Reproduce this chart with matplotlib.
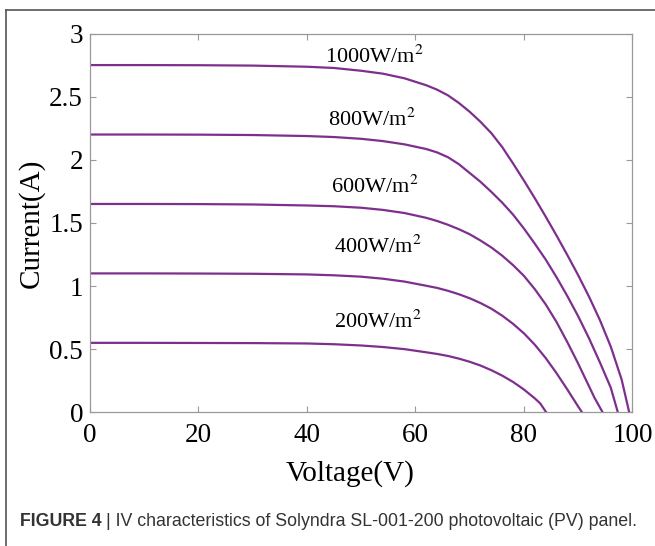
import matplotlib
matplotlib.use("Agg")
import matplotlib.pyplot as plt
from matplotlib.lines import Line2D

# IV curves: voltage (V), current (A)
v_1000 = [0, 10, 20, 30, 40, 45, 50, 54, 58, 62, 64, 66, 68, 70, 72, 74, 76, 78, 80, 82, 84, 86, 88, 90, 92, 94, 96, 98, 99.4]
i_1000 = [2.75, 2.75, 2.749, 2.746, 2.737, 2.727, 2.705, 2.682, 2.645, 2.59, 2.555, 2.51, 2.45, 2.38, 2.30, 2.21, 2.10, 1.97, 1.835, 1.695, 1.55, 1.40, 1.245, 1.085, 0.915, 0.73, 0.52, 0.26, 0.0]

v_800 = [0, 10, 20, 30, 40, 45, 50, 54, 58, 62, 64, 66, 68, 70, 72, 74, 76, 78, 80, 82, 84, 86, 88, 90, 92, 94, 96, 97.3]
i_800 = [2.2, 2.2, 2.199, 2.196, 2.188, 2.18, 2.166, 2.148, 2.122, 2.085, 2.058, 2.02, 1.965, 1.895, 1.825, 1.745, 1.66, 1.565, 1.455, 1.335, 1.21, 1.07, 0.92, 0.76, 0.585, 0.395, 0.195, 0.0]

v_600 = [0, 10, 20, 30, 40, 45, 50, 54, 58, 62, 64, 66, 68, 70, 72, 74, 76, 78, 80, 82, 84, 86, 88, 90, 92, 93, 94.5]
i_600 = [1.65, 1.65, 1.649, 1.646, 1.638, 1.632, 1.62, 1.603, 1.578, 1.54, 1.515, 1.485, 1.45, 1.41, 1.36, 1.305, 1.24, 1.165, 1.08, 0.975, 0.855, 0.715, 0.555, 0.385, 0.205, 0.115, 0.0]

v_400 = [0, 10, 20, 30, 40, 45, 50, 54, 58, 62, 64, 66, 68, 70, 72, 74, 76, 78, 80, 82, 84, 86, 88, 90, 90.7]
i_400 = [1.1, 1.1, 1.099, 1.097, 1.092, 1.085, 1.074, 1.058, 1.035, 1.002, 0.985, 0.962, 0.935, 0.903, 0.865, 0.82, 0.765, 0.70, 0.625, 0.535, 0.43, 0.31, 0.18, 0.045, 0.0]

v_200 = [0, 10, 20, 30, 40, 45, 50, 54, 58, 62, 64, 66, 68, 70, 72, 74, 76, 78, 80, 82, 83, 84.1]
i_200 = [0.55, 0.55, 0.549, 0.548, 0.545, 0.539, 0.529, 0.517, 0.5, 0.475, 0.462, 0.446, 0.425, 0.40, 0.37, 0.333, 0.29, 0.24, 0.18, 0.11, 0.07, 0.0]

curve_labels = ['1000W/m$^2$', '800W/m$^2$', '600W/m$^2$', '400W/m$^2$', '200W/m$^2$']
label_x = [52.5, 52, 52.5, 53, 53]
label_y = [2.82, 2.32, 1.79, 1.31, 0.72]

x_ticks = [0, 20, 40, 60, 80, 100]
y_ticks = [0, 0.5, 1, 1.5, 2, 2.5, 3]
y_tick_labels = ['0', '0.5', '1', '1.5', '2', '2.5', '3']

plt.rcParams['font.family'] = ['Liberation Serif', 'DejaVu Serif']
plt.rcParams['mathtext.fontset'] = 'stix'

fig = plt.figure(figsize=(6.55, 5.46), dpi=100)
ax = fig.add_axes([0.1374, 0.2449, 0.8282, 0.6937])

purple = '#7E2F8E'
for v, i in [(v_1000, i_1000), (v_800, i_800), (v_600, i_600), (v_400, i_400), (v_200, i_200)]:
	ax.plot(v, i, '-', color=purple, linewidth=1.6, solid_joinstyle='round')

for txt, lx, ly in zip(curve_labels, label_x, label_y):
	ax.text(lx, ly, txt, fontsize=16, ha='center', va='center')

ax.set_xlim(0, 100)
ax.set_ylim(0, 3)
ax.set_xticks(x_ticks)
ax.set_yticks(y_ticks)
ax.set_yticklabels(y_tick_labels)
ax.tick_params(direction='in', length=4, color='#999999', labelsize=19.5, top=True, right=True)
ax.tick_params(axis='x', pad=8)
ax.tick_params(axis='y', pad=5)
for s in ax.spines.values():
	s.set_color('#999999')
	s.set_linewidth(0.9)

ax.set_xlabel('Voltage(V)', fontsize=21, labelpad=3)
ax.set_ylabel('Current(A)', fontsize=21, labelpad=3)
ax.xaxis.set_label_coords(0.48, -0.125)

# panel frame (top and left edges visible)
fig.add_artist(Line2D([6/655, 1.0], [1 - 10/546, 1 - 10/546], color='#555555', linewidth=1.2, transform=fig.transFigure))
fig.add_artist(Line2D([6/655, 6/655], [0, 1 - 10/546], color='#555555', linewidth=1.2, transform=fig.transFigure))

# caption
cap_y = 1 - 521/546
t1 = fig.text(20/655, cap_y, 'FIGURE 4', family='Liberation Sans', fontweight='bold', fontsize=12.8, color='#333333', va='center')
fig.canvas.draw()
bb = t1.get_window_extent()
fig.text(bb.x1/655 + 0.006, cap_y, '| IV characteristics of Solyndra SL-001-200 photovoltaic (PV) panel.',
	family='Liberation Sans', fontsize=12.8, color='#333333', va='center')

fig.savefig('out.png', dpi=100)
